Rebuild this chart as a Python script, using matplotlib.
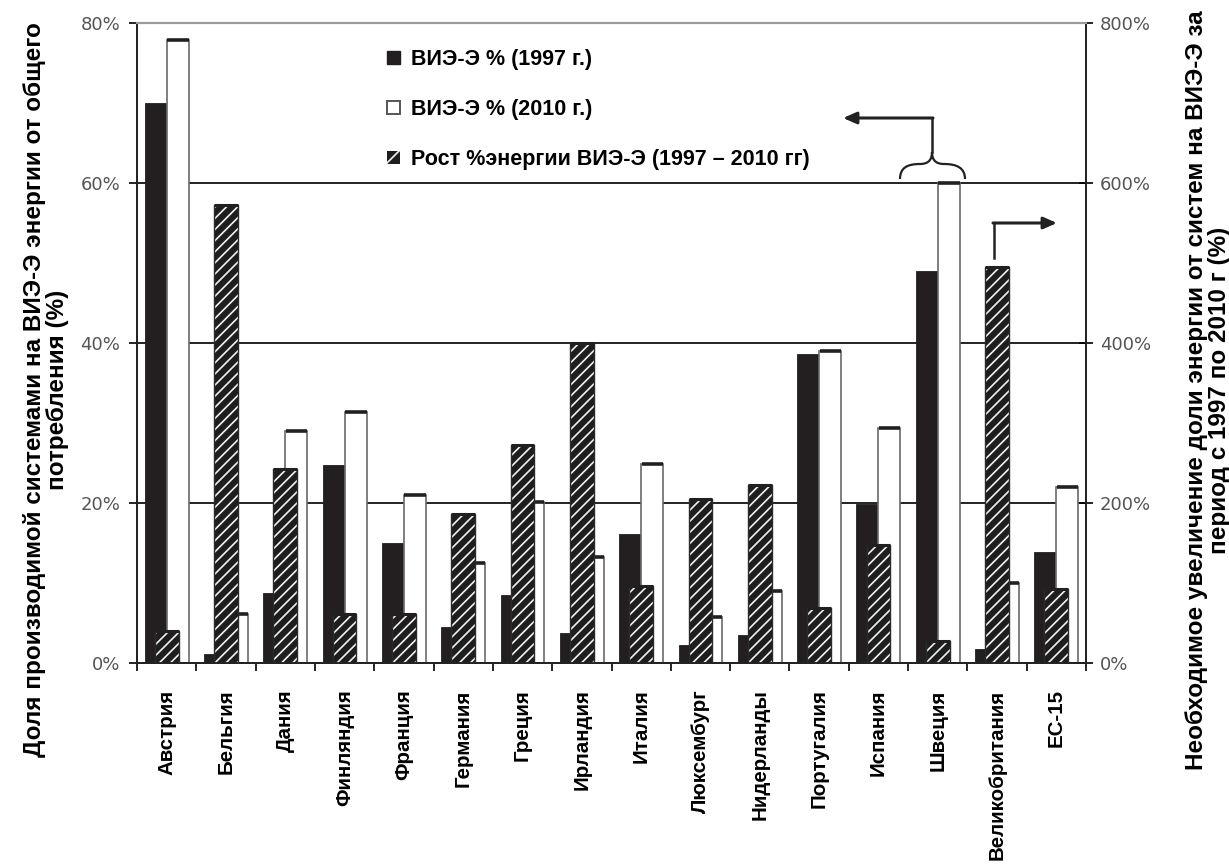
import numpy as np
import matplotlib
matplotlib.use("Agg")
import matplotlib.pyplot as plt
from matplotlib.patches import Patch, PathPatch
from matplotlib.path import Path
from matplotlib.ticker import FixedLocator, PercentFormatter

strany = [
    "Австрия", "Бельгия", "Дания", "Финляндия", "Франция", "Германия",
    "Греция", "Ирландия", "Италия", "Люксембург", "Нидерланды",
    "Португалия", "Испания", "Швеция", "Великобритания", "ЕС-15",
]

# доля ВИЭ-Э, % (левая ось)
vie_1997 = [70.0, 1.1, 8.7, 24.7, 15.0, 4.5, 8.5, 3.8, 16.1, 2.2, 3.5, 38.6, 19.9, 49.0, 1.7, 13.9]
vie_2010 = [77.9, 6.1, 29.0, 31.4, 21.0, 12.5, 20.1, 13.2, 24.9, 5.7, 9.0, 39.0, 29.4, 60.0, 10.0, 22.0]

# необходимый рост, % (правая ось)
rost = [40, 572, 242, 61, 61, 186, 272, 400, 96, 205, 222, 69, 147, 27, 495, 92]

leg_1997 = "ВИЭ-Э % (1997 г.)"
leg_2010 = "ВИЭ-Э % (2010 г.)"
leg_rost = "Рост %энергии ВИЭ-Э (1997 – 2010 гг)"

ylabel_left = "Доля производимой системами на ВИЭ-Э энергии от общего\nпотребления (%)"
ylabel_right = "Необходимое увеличение доли энергии от систем на ВИЭ-Э за\nпериод с 1997 по 2010 г (%)"

FONT = ["Liberation Sans", "DejaVu Sans"]
plt.rcParams["font.family"] = FONT
plt.rcParams["hatch.linewidth"] = 1.2

W, H = 1229, 866
fig = plt.figure(figsize=(W / 100, H / 100), dpi=100)
ax = fig.add_axes([137 / W, 1 - 663 / H, (1086 - 137) / W, (663 - 23) / H])
ax2 = ax.twinx()

x = np.arange(len(strany))
bw = 0.37

ax.bar(x - bw / 2, vie_1997, width=bw, color="#231f20", edgecolor="#231f20",
       linewidth=0.6, zorder=2)
ax.bar(x + bw / 2, vie_2010, width=bw, color="white", edgecolor="#6a6a6a",
       linewidth=1.2, zorder=2)
ax.hlines(vie_2010, x + 0.01, x + bw, colors="#231f20", linewidth=2.6, zorder=3)

hw = 0.40
ax2.bar(x, rost, width=hw, color="#1e1e1e", edgecolor="#f2f2f2", hatch="///",
        linewidth=0, zorder=2)
ax2.bar(x, rost, width=hw, fill=False, edgecolor="#2b2b2b", linewidth=1.0, zorder=3)
ax2.hlines(rost, x - hw / 2, x + hw / 2, colors="#231f20", linewidth=2.2, zorder=4)

ax.set_xlim(-0.5, len(strany) - 0.5)
ax.set_ylim(0, 80)
ax2.set_ylim(0, 800)

for yv in (20, 40, 60):
    ax.axhline(yv, color="#222222", linewidth=1.4, zorder=1)

ax.yaxis.set_major_locator(FixedLocator([0, 20, 40, 60, 80]))
ax2.yaxis.set_major_locator(FixedLocator([0, 200, 400, 600, 800]))
ax.yaxis.set_major_formatter(PercentFormatter(decimals=0))
ax2.yaxis.set_major_formatter(PercentFormatter(decimals=0))

ax.set_xticks(x)
ax.set_xticklabels(strany, rotation=90, fontsize=14.8, fontweight="bold", va="top")
ax.set_xticks(np.arange(len(strany) + 1) - 0.5, minor=True)
ax.tick_params(axis="x", which="major", length=0, pad=19)
ax.tick_params(axis="x", which="minor", length=6, width=1.2, direction="out")

tick_font = dict(labelsize=13, labelcolor="#555555", width=1.2)
ax.tick_params(axis="y", direction="out", length=6, pad=6, **tick_font)
ax2.tick_params(axis="y", direction="inout", length=10, pad=5, **tick_font)
for lab in ax.get_yticklabels() + ax2.get_yticklabels():
    lab.set_family(["DejaVu Sans"])

for a in (ax, ax2):
    a.spines["top"].set_color("#9a9a9a")
    a.spines["top"].set_linewidth(1.5)
    for s in ("left", "right", "bottom"):
        a.spines[s].set_color("#222222")
        a.spines[s].set_linewidth(1.3)

fig.text(46 / W, 1 - 390 / H, ylabel_left, rotation=90, ha="center", va="center",
         multialignment="center", fontsize=17.5, fontweight="bold", linespacing=1.05)
fig.text(1208 / W, 1 - 390 / H, ylabel_right, rotation=90, ha="center", va="center",
         multialignment="center", fontsize=17.5, fontweight="bold", linespacing=1.0)

handles = [
    Patch(facecolor="#231f20", edgecolor="#231f20", label=leg_1997),
    Patch(facecolor="white", edgecolor="#555555", linewidth=1.4, label=leg_2010),
    Patch(facecolor="#1e1e1e", edgecolor="#f2f2f2", hatch="//", linewidth=0, label=leg_rost),
]
ax2.legend(handles=handles, loc="upper left", bbox_to_anchor=(387 / W, 1 - 49 / H),
           bbox_transform=fig.transFigure, frameon=False, borderpad=0, borderaxespad=0,
           handlelength=0.6, handleheight=0.6, handletextpad=0.5, labelspacing=1.35,
           prop=dict(family=FONT, weight="bold", size=15.5))

# фигурная скобка над Швецией и стрелка к левой оси
def px(xp, yp):
    return ((xp - 137) / (1086 - 137) * len(strany) - 0.5, (663 - yp) / 8)

brace_pts = [(900, 179), (900, 168), (907, 164), (920, 164), (930, 164), (932, 158), (932, 152),
             (932, 158), (934, 164), (944, 164), (957, 164), (965, 168), (965, 179)]
codes = [Path.MOVETO, Path.CURVE4, Path.CURVE4, Path.CURVE4, Path.CURVE4, Path.CURVE4, Path.CURVE4,
         Path.CURVE4, Path.CURVE4, Path.CURVE4, Path.CURVE4, Path.CURVE4, Path.CURVE4]
brace = Path([px(*p) for p in brace_pts], codes)
ax.add_patch(PathPatch(brace, fill=False, edgecolor="#222222", linewidth=1.6, zorder=6,
                       clip_on=False))
ax.plot(*zip(px(932, 152), px(932, 118)), color="#222222", linewidth=1.8, zorder=6)
ax.annotate("", xy=px(843, 118), xytext=px(933, 118),
            arrowprops=dict(arrowstyle="-|>,head_length=0.8,head_width=0.35",
                            color="#222222", linewidth=2.2, shrinkA=0, shrinkB=0), zorder=6)

# стрелка от Великобритании к правой оси
ax.plot(*zip(px(994, 258), px(994, 223)), color="#222222", linewidth=1.8, zorder=6)
ax.annotate("", xy=px(1057, 223), xytext=px(993, 223),
            arrowprops=dict(arrowstyle="-|>,head_length=0.8,head_width=0.35",
                            color="#222222", linewidth=2.2, shrinkA=0, shrinkB=0), zorder=6)

fig.savefig("out.png", dpi=100)
